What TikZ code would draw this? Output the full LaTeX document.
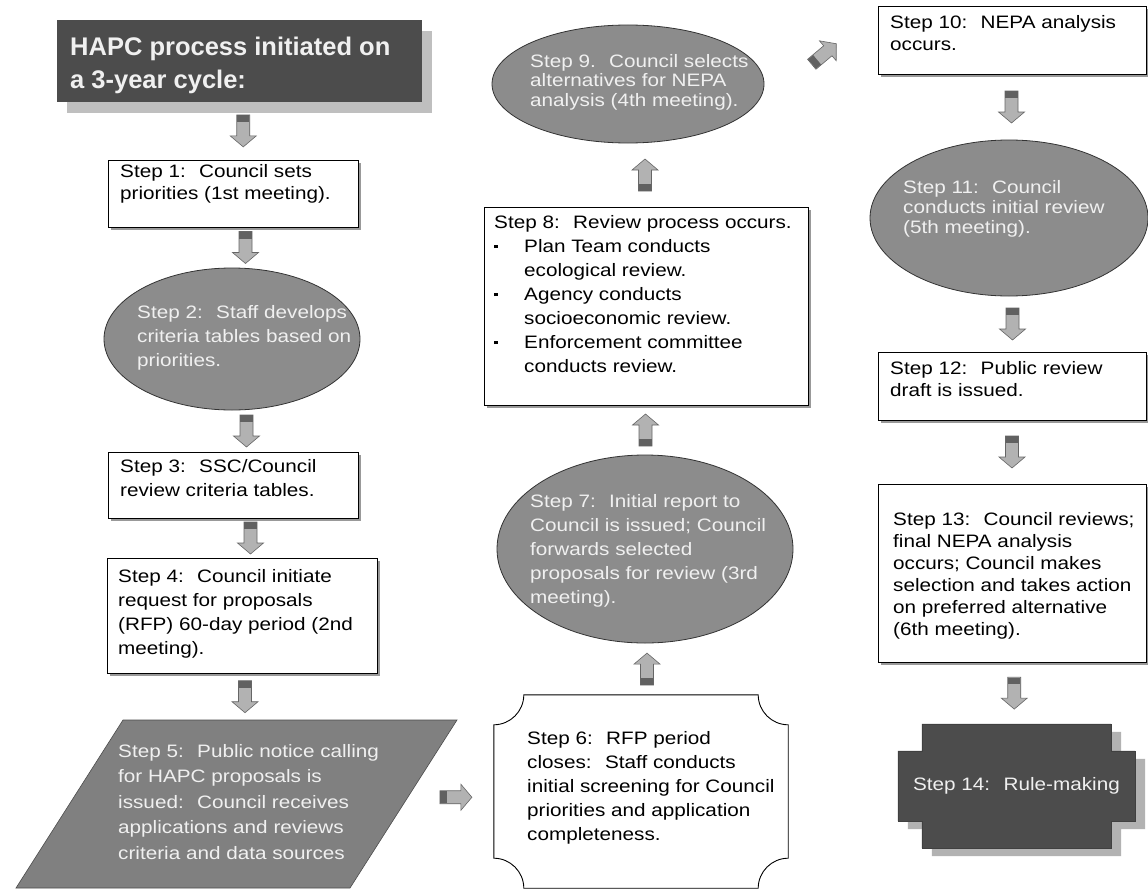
\documentclass[tikz,border=0pt]{standalone}
\usepackage{fontspec}
\setmainfont{Liberation Sans}
\newfontfamily\bodyf[FakeStretch=1.15]{Liberation Sans}
\usetikzlibrary{calc,shapes.geometric,shadows}
\definecolor{dk}{gray}{0.30}
\definecolor{ell}{gray}{0.55}
\definecolor{para}{gray}{0.50}
\definecolor{lt}{gray}{0.94}
\newcommand\bul{\makebox[30pt][l]{\raisebox{4pt}{\rule{3.5pt}{3.5pt}}}}
\newcommand\ind{\hspace*{30pt}}
\tikzset{
  stepbox/.style={rectangle, draw=black, line width=0.8pt, fill=white, inner sep=0pt,
    drop shadow={shadow xshift=3pt, shadow yshift=-3pt, fill=black!40, opacity=1}},
  ellbox/.style={ellipse, draw=black!80, line width=0.8pt, fill=ell, inner sep=0pt},
  anchorbox/.style={rectangle, inner sep=0pt},
  txt/.style={anchor=north west, inner sep=0pt, align=left, font=\bodyf\fontsize{18}{24}\selectfont},
  wtxt/.style={txt, text=lt},
  pics/barrow/.style={code={
    \path[draw=black!60, fill=black!30, line width=0.6pt]
      (-16,-6.5) -- (5,-6.5) -- (5,-13) -- (16,0) -- (5,13) -- (5,6.5) -- (-16,6.5) -- cycle;
    \fill[black!62] (-15.6,-6.1) rectangle (-9,6.1);
  }}
}
\begin{document}
\begin{tikzpicture}[x=1pt,y=-1pt]
\useasboundingbox[fill=white] (0,0) rectangle (1148,891);

% ---------- left column ----------
\node[rectangle, fill=dk, inner sep=0pt, minimum width=365pt, minimum height=82pt,
  drop shadow={shadow xshift=10pt, shadow yshift=-11pt, fill=black!25, opacity=1}] (h) at (239.5,61) {};
\node[anchor=north west, inner sep=0pt, align=left, text=lt,
  font=\bfseries\fontsize{25.5}{33}\selectfont] (ht) at (70,37) {HAPC process initiated on\\a 3-year cycle:};

\node[stepbox, minimum width=250pt, minimum height=67pt] (s1) at (233,193.5) {};
\node[txt, font=\bodyf\fontsize{18}{22}\selectfont] (s1t) at (120,164) {Step 1:~ Council sets\\priorities (1st meeting).};

\node[ellbox, minimum width=256pt, minimum height=142pt] (s2) at (232,339) {};
\node[wtxt] (s2t) at (137,305) {Step 2:~ Staff develops\\criteria tables based on\\priorities.};

\node[stepbox, minimum width=250pt, minimum height=66pt] (s3) at (233,485) {};
\node[txt] (s3t) at (120,459) {Step 3:~ SSC/Council\\review criteria tables.};

\node[stepbox, minimum width=270pt, minimum height=115pt] (s4) at (242,615.5) {};
\node[txt] (s4t) at (118,569) {Step 4:~ Council initiate\\request for proposals\\(RFP) 60-day period (2nd\\meeting).};

\path[fill=para, draw=black!70, line width=0.6pt] (123,720) -- (457,720) -- (350,888) -- (16,888) -- cycle;
\coordinate (s5n) at (240,720);
\coordinate (s5e) at (404,803);
\node[wtxt, font=\bodyf\fontsize{18}{25.5}\selectfont] (s5t) at (118,744) {Step 5:~ Public notice calling\\for HAPC proposals is\\issued:~ Council receives\\applications and reviews\\criteria and data sources};

% ---------- middle column ----------
\node[anchorbox, minimum width=294pt, minimum height=193pt] (s6) at (641,791.5) {};
\path[draw=black, line width=0.9pt, fill=white]
  ($(s6.north west)+(30,0)$) -- ($(s6.north east)+(-30,0)$)
  .. controls ($(s6.north east)+(-30,16.5)$) and ($(s6.north east)+(-16.5,30)$) .. ($(s6.north east)+(0,30)$)
  -- ($(s6.south east)+(0,-30)$)
  .. controls ($(s6.south east)+(-16.5,-30)$) and ($(s6.south east)+(-30,-16.5)$) .. ($(s6.south east)+(-30,0)$)
  -- ($(s6.south west)+(30,0)$)
  .. controls ($(s6.south west)+(30,-16.5)$) and ($(s6.south west)+(16.5,-30)$) .. ($(s6.south west)+(0,-30)$)
  -- ($(s6.north west)+(0,30)$)
  .. controls ($(s6.north west)+(16.5,30)$) and ($(s6.north west)+(30,16.5)$) .. cycle;
\node[txt] (s6t) at (527,731) {Step 6:~ RFP period\\closes:~ Staff conducts\\initial screening for Council\\priorities and application\\completeness.};

\node[ellbox, minimum width=296pt, minimum height=188pt] (s7) at (645,549) {};
\node[wtxt] (s7t) at (530,494) {Step 7:~ Initial report to\\Council is issued; Council\\forwards selected\\proposals for review (3rd\\meeting).};

\node[stepbox, minimum width=324pt, minimum height=198pt] (s8) at (646,306) {};
\node[txt] (s8t) at (494,215) {Step 8:~ Review process occurs.\\\bul Plan Team conducts\\\ind ecological review.\\\bul Agency conducts\\\ind socioeconomic review.\\\bul Enforcement committee\\\ind conducts review.};

\node[ellbox, minimum width=272pt, minimum height=118pt] (s9) at (628,84) {};
\node[wtxt, font=\bodyf\fontsize{18}{19.5}\selectfont] (s9t) at (530,54) {Step 9.~ Council selects\\alternatives for NEPA\\analysis (4th meeting).};

% ---------- right column ----------
\node[stepbox, minimum width=268pt, minimum height=68pt] (s10) at (1012,40) {};
\node[txt, font=\bodyf\fontsize{18}{22}\selectfont] (s10t) at (890,15) {Step 10:~ NEPA analysis\\occurs.};

\node[ellbox, minimum width=278pt, minimum height=156pt] (s11) at (1009,218) {};
\node[wtxt, font=\bodyf\fontsize{18}{20}\selectfont] (s11t) at (903,180) {Step 11:~ Council\\conducts initial review\\(5th meeting).};

\node[stepbox, minimum width=268pt, minimum height=68pt] (s12) at (1012,386) {};
\node[txt, font=\bodyf\fontsize{18}{22}\selectfont] (s12t) at (890,361) {Step 12:~ Public review\\draft is issued.};

\node[stepbox, minimum width=268pt, minimum height=178pt] (s13) at (1012,573) {};
\node[txt, font=\bodyf\fontsize{18}{22}\selectfont] (s13t) at (893,512) {Step 13:~ Council reviews;\\final NEPA analysis\\occurs; Council makes\\selection and takes action\\on preferred alternative\\(6th meeting).};

\node[anchorbox, minimum width=237pt, minimum height=124pt] (s14) at (1016.5,786) {};
\fill[black!30] ($(s14.north west)+(34,8)$) -- ($(s14.north east)+(-14,8)$) -- ($(s14.north east)+(-14,35)$)
  -- ($(s14.north east)+(10,35)$) -- ($(s14.south east)+(10,-19)$) -- ($(s14.south east)+(-14,-19)$)
  -- ($(s14.south east)+(-14,8)$) -- ($(s14.south west)+(34,8)$) -- ($(s14.south west)+(34,-19)$)
  -- ($(s14.south west)+(10,-19)$) -- ($(s14.north west)+(10,35)$) -- ($(s14.north west)+(34,35)$) -- cycle;
\path[fill=dk, draw=black!75, line width=0.6pt]
  ($(s14.north west)+(24,0)$) -- ($(s14.north east)+(-24,0)$) -- ($(s14.north east)+(-24,27)$)
  -- ($(s14.north east)+(0,27)$) -- ($(s14.south east)+(0,-27)$) -- ($(s14.south east)+(-24,-27)$)
  -- ($(s14.south east)+(-24,0)$) -- ($(s14.south west)+(24,0)$) -- ($(s14.south west)+(24,-27)$)
  -- ($(s14.south west)+(0,-27)$) -- ($(s14.north west)+(0,27)$) -- ($(s14.north west)+(24,27)$) -- cycle;
\node[inner sep=0pt, text=lt, font=\bodyf\fontsize{18}{22}\selectfont] (s14t) at (s14) {Step 14:~ Rule-making};

% ---------- block arrows ----------
\pic[rotate=-90] at ($(h.south)!.5!(s1.north)+(7,0)$) {barrow};
\pic[rotate=-90] at ($(s1.south)!.5!(s2.north)+(13,0)$) {barrow};
\pic[rotate=-90] at ($(s2.south)!.5!(s3.north)+(14,0)$) {barrow};
\pic[rotate=-90] at ($(s3.south)!.5!(s4.north)+(13,0)$) {barrow};
\pic[rotate=-90] at ($(s4.south)!.5!(s5n)+(4,0)$) {barrow};
\pic at ($(s5e)!.5!(s6.west)+(7,0)$) {barrow};
\pic[rotate=90] at ($(s6.north)!.5!(s7.south)+(4,0)$) {barrow};
\pic[rotate=90] at ($(s7.north)!.5!(s8.south)$) {barrow};
\pic[rotate=90] at ($(s8.north)!.5!(s9.south)+(8,0)$) {barrow};
\pic[rotate=40] at ($(s9.east)!.5!(s10.west)+(3,-8)$) {barrow};
\pic[rotate=-90] at ($(s10.south)!.5!(s11.north)+(1,0)$) {barrow};
\pic[rotate=-90] at ($(s11.south)!.5!(s12.north)+(2,0)$) {barrow};
\pic[rotate=-90] at ($(s12.south)!.5!(s13.north)$) {barrow};
\pic[rotate=-90] at ($(s13.south)!.5!(s14.north)$) {barrow};
\end{tikzpicture}
\end{document}
